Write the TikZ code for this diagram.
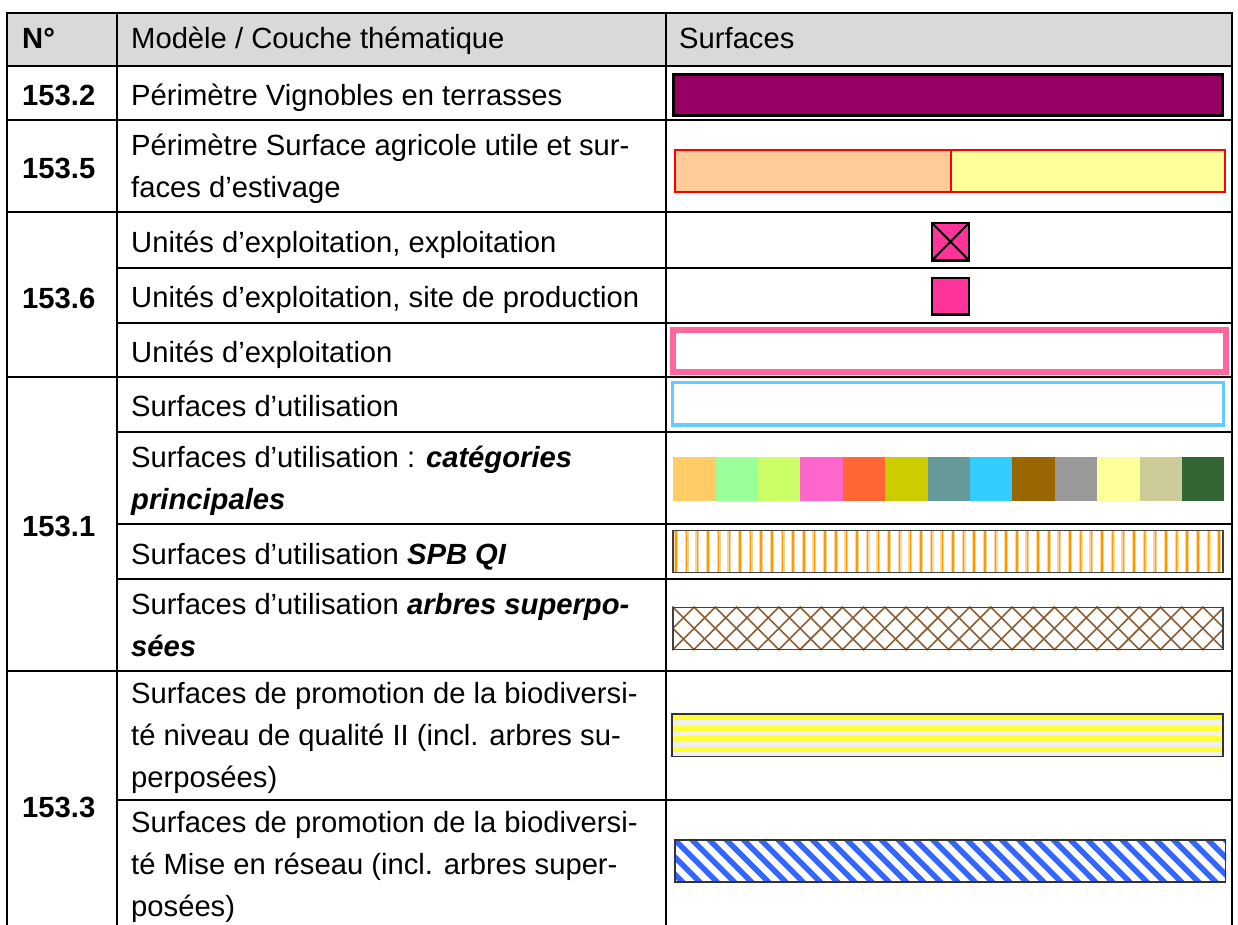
\documentclass[tikz,border=0pt]{standalone}
\usepackage{fontspec}
\setmainfont{Liberation Sans}
\usepackage{tikz}
\definecolor{headgray}{HTML}{D9D9D9}
\definecolor{vineyard}{HTML}{990066}
\definecolor{peach}{HTML}{FFCC99}
\definecolor{paleyellow}{HTML}{FFFF99}
\definecolor{farmpink}{HTML}{FF3399}
\definecolor{unitpink}{HTML}{FF6699}
\definecolor{usesky}{HTML}{66CCFF}
\definecolor{spborange}{HTML}{FF9900}
\definecolor{treebrown}{HTML}{8B5E34}
\definecolor{bandyellow}{HTML}{FFFF33}
\definecolor{bandgray}{HTML}{EFEFEF}
\definecolor{netblue}{HTML}{3366FF}
\newcommand{\cellfont}{\fontsize{29.2}{42}\selectfont}
\newcommand{\boldit}[1]{\textbf{\textit{#1}}}

\begin{document}
\begin{tikzpicture}[x=1pt,y=-1pt,
every node/.style={inner sep=0pt},
cell/.style={anchor=north west,align=left,font=\cellfont},
num/.style={cell,font=\cellfont\bfseries},
grid/.style={line width=2pt},
swatch/.style={line width=2.5pt}]
\useasboundingbox (0,0) rectangle (1238,925);

%header band
\fill[headgray] (7.3,12.7) rectangle (1232,65.7);

%table rules: frame, columns, full rows, rows inside merged cells
\draw[grid] (7.3,925) -- (7.3,12.7) -- (1232,12.7) -- (1232,925);
\foreach \x in {117,665.7} \draw[grid] (\x,12.7) -- (\x,925);
\foreach \y in {65.7,120,212.3,376.7,670.7} \draw[grid] (7.3,\y) -- (1232,\y);
\foreach \y in {267.7,322.7,431.7,523.7,579,799.5} \draw[grid] (117,\y) -- (1232,\y);

%header (each cell starts with a strut, so its top sits 0.7 baselineskip above the first baseline)
\node[num] (hno) at (22,18.6) {\strut N°};
\node[cell] (hlayer) at (131,18.6) {\strut Modèle / Couche thématique};
\node[cell] (hsurf) at (679,18.6) {\strut Surfaces};

%model numbers
\node[num] (n1532) at (22,75.6) {\strut 153.2};
\node[num] (n1535) at (22,148.9) {\strut 153.5};
\node[num] (n1536) at (22,278.6) {\strut 153.6};
\node[num] (n1531) at (22,506.8) {\strut 153.1};
\node[num] (n1533) at (22,787.7) {\strut 153.3};

%layer names
\node[cell] (l1532) at (131,76) {\strut Périmètre Vignobles en terrasses};
\node[cell] (l1535) at (131,126.3) {\strut Périmètre Surface agricole utile et sur-\\faces d’estivage};
\node[cell] (l1536a) at (131,223.1) {\strut Unités d’exploitation, exploitation};
\node[cell] (l1536b) at (131,278.3) {\strut Unités d’exploitation, site de production};
\node[cell] (l1536c) at (131,332.8) {\strut Unités d’exploitation};
\node[cell] (l1531a) at (131,387.3) {\strut Surfaces d’utilisation};
\node[cell] (l1531b) at (131,437.7) {\strut Surfaces d’utilisation : \boldit{catégories}\\\boldit{principales}};
\node[cell] (l1531c) at (131,534.5) {\strut Surfaces d’utilisation \boldit{SPB QI}};
\node[cell] (l1531d) at (131,584.9) {\strut Surfaces d’utilisation \boldit{arbres superpo-}\\\boldit{sées}};
\node[cell] (l1533a) at (131,674.1) {\strut Surfaces de promotion de la biodiversi-\\té niveau de qualité II (incl. arbres su-\\perposées)};
\node[cell] (l1533b) at (131,803) {\strut Surfaces de promotion de la biodiversi-\\té Mise en réseau (incl. arbres super-\\posées)};

%153.2 vineyards
\filldraw[swatch,fill=vineyard,line width=3pt] (673.2,74.2) rectangle (1222.8,115.2);
%153.5 farmland and summer pastures
\filldraw[fill=peach,draw=red,line width=2pt] (675.3,150) rectangle (950.8,191.7);
\filldraw[fill=paleyellow,draw=red,line width=2pt] (950.8,150) rectangle (1225.2,191.7);
%153.6 farm units
\filldraw[swatch,fill=farmpink] (932,223) rectangle (969,260.4);
\draw[line width=2pt] (932,223) -- (969,260.4) (932,260.4) -- (969,223);
\filldraw[swatch,fill=farmpink] (932,278) rectangle (969,314.7);
\draw[unitpink,line width=6pt] (672.7,329.7) rectangle (1226,372);
%153.1 used surfaces
\draw[usesky,line width=3.3pt] (672.2,382.7) rectangle (1223.7,425);
\foreach \h [count=\i from 0] in {FFCC66,99FF99,CCFF66,FF66CC,FF6633,CCCC00,669999,33CCFF,996600,999999,FFFF99,CCCC99,336633}{
	\definecolor{cat}{HTML}{\h}
	\fill[cat] (673.2+42.4*\i,456.7) rectangle ++(42.4,44);
}
\begin{scope}
\clip (672.4,530) rectangle (1223.5,573.3);
\foreach \k in {0,...,51}{
	\draw[spborange!40,line width=4pt] (676+10.65*\k,530) -- ++(0,43.3);
	\draw[spborange,line width=1.5pt] (676+10.65*\k,530) -- ++(0,43.3);
}
\end{scope}
\draw[black!75,line width=1.5pt] (673.1,530.7) rectangle (1222.8,572.6);
\begin{scope}
\clip (672.4,606.7) rectangle (1223.5,650);
\foreach \k in {-3,...,27}{
	\draw[treebrown,line width=1.6pt] (672.4+21.2*\k,606.7) -- ++(43.3,43.3);
	\draw[treebrown,line width=1.6pt] (672.4+21.2*\k,650) -- ++(43.3,-43.3);
}
\end{scope}
\draw[black!75,line width=1.5pt] (673.1,607.4) rectangle (1222.8,649.3);
%153.3 biodiversity areas
\fill[bandgray] (671.3,713.3) rectangle (1223.5,757.3);
\foreach \k in {0,...,3}
	\fill[bandyellow] (671.3,714.9+10.65*\k) rectangle (1223.5,720.2+10.65*\k);
\draw[black!80,line width=1.3pt] (671.9,713.9) rectangle (1222.9,756.7);
\begin{scope}
\clip (674.3,839.3) rectangle (1226.2,882.7);
\foreach \k in {-3,...,33}
	\draw[netblue,line width=5.5pt] (674.3+17.2*\k,839.3) -- ++(43.4,43.4);
\end{scope}
\draw[black!80,line width=1.3pt] (674.9,839.9) rectangle (1225.6,882.1);

\end{tikzpicture}
\end{document}
